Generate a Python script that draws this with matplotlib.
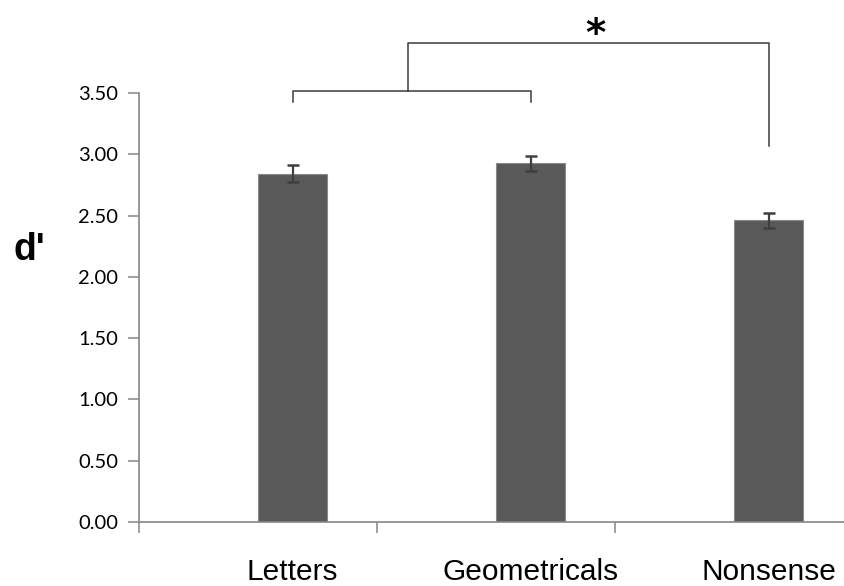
import matplotlib.pyplot as plt
import numpy as np

categories = ['Letters', 'Geometricals', 'Nonsense']
dprime = [2.84, 2.925, 2.46]
errors = [0.07, 0.065, 0.063]
yticks = [0.0, 0.5, 1.0, 1.5, 2.0, 2.5, 3.0, 3.5]

fig = plt.figure(figsize=(8.45, 5.86), dpi=100)
ax = fig.add_axes([139 / 845, 64 / 586, 706 / 845, 429 / 586])

x = np.arange(len(categories)) + 0.645
ax.bar(x, dprime, width=0.286, color='#595959', edgecolor='#8a8a8a', linewidth=0.8, zorder=2)
ax.errorbar(x, dprime, yerr=errors, fmt='none', ecolor='#3f3f3f', elinewidth=1.6,
            capsize=4.5, capthick=1.8, zorder=3)

ax.set_xlim(0, 706 / 238)
ax.set_ylim(0, 3.5)
ax.set_yticks(yticks)
ax.set_yticklabels(['%.2f' % v for v in yticks], fontsize=14.5, family='Lato')
ax.set_xticks([0, 1, 2])
ax.set_xticklabels([])
ax.set_xticks(x, minor=True)
ax.set_xticklabels(categories, minor=True, fontsize=21.5, family='Liberation Sans')
ax.tick_params(axis='x', which='minor', length=0, pad=26)
ax.tick_params(axis='x', which='major', length=8, width=1.1, color='#868686', direction='out')
ax.tick_params(axis='y', length=8, width=1.1, color='#868686', direction='out', pad=7)
for s in ['top', 'right']:
    ax.spines[s].set_visible(False)
for s in ['left', 'bottom']:
    ax.spines[s].set_color('#868686')
    ax.spines[s].set_linewidth(1.2)

ax.set_ylabel("d'", fontsize=27, fontweight='bold', family='Liberation Sans',
              rotation=0, va='center')
ax.yaxis.set_label_coords(-0.155, 0.635)

# significance brackets
lc = '#3a3a3a'
lo, hi = 3.43, 3.515
top, right_low = 3.91, 3.07
mid = (x[0] + x[1]) / 2 - 0.015
ax.plot([x[0], x[0], x[1], x[1]], [lo, hi, hi, lo], color=lc, lw=1.1, clip_on=False)
ax.plot([mid, mid, x[2], x[2]], [hi, top, top, right_low], color=lc, lw=1.1, clip_on=False)
ax.text((mid + x[2]) / 2 + 0.03, 3.97, '*', ha='center', va='center', fontsize=28,
        fontweight='bold', family='DejaVu Sans', clip_on=False)

fig.savefig('out.png', dpi=100)
